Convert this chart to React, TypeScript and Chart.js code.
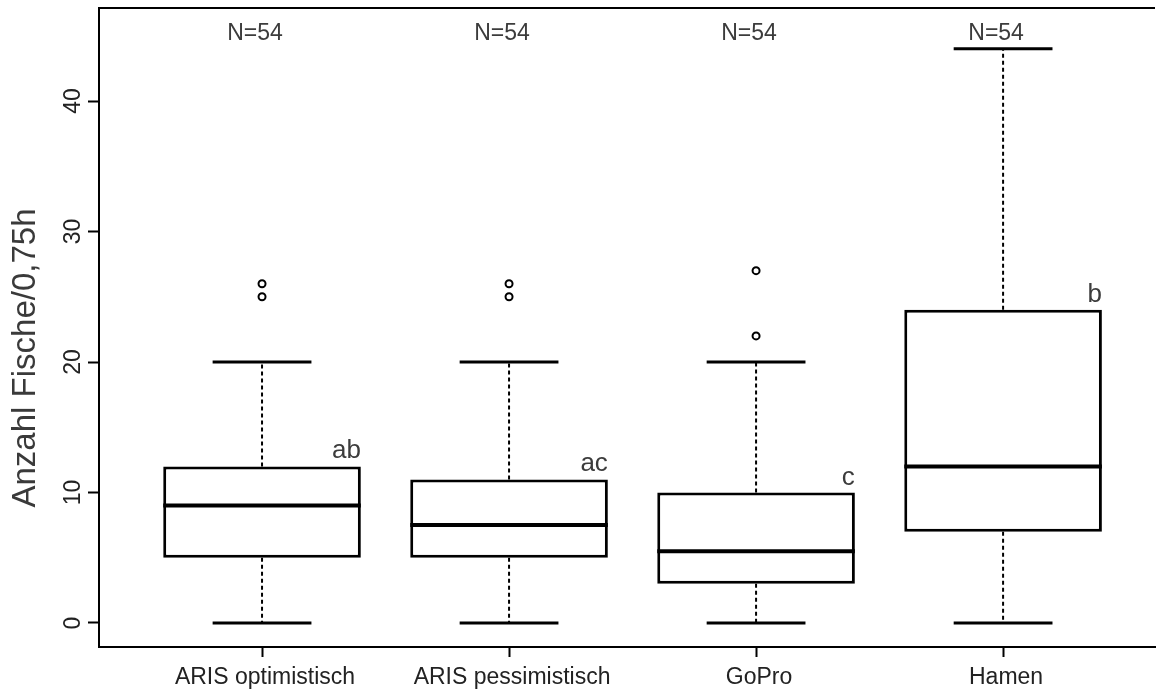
import React, { useEffect, useRef } from 'react';
import { Chart, registerables } from 'chart.js';

Chart.register(...registerables);

const categories = ['ARIS optimistisch', 'ARIS pessimistisch', 'GoPro', 'Hamen'];
const whiskerLow = [0, 0, 0, 0];
const q1 = [5, 5, 3, 7];
const median = [9, 7.5, 5.5, 12];
const q3 = [12, 11, 10, 24];
const whiskerHigh = [20, 20, 20, 44];
const outliers = [[25, 26], [25, 26], [22, 27], []];
const groupLetters = ['ab', 'ac', 'c', 'b'];
const nLabels = ['N=54', 'N=54', 'N=54', 'N=54'];
const yTicks = [0, 10, 20, 30, 40];
const yTitle = 'Anzahl Fische/0,75h';

const FONT = '"Liberation Sans", Arial, Helvetica, sans-serif';
const BOX_HALF = 0.4;
const CAP_HALF = 0.2;

const boxPlugin = {
  id: 'boxExtras',
  beforeDatasetsDraw(chart: any) {
    const { ctx, scales } = chart;
    const x = scales.x;
    const y = scales.y;
    ctx.save();
    ctx.strokeStyle = '#000';
    categories.forEach((_, i) => {
      const cx = x.getPixelForValue(i + 1);
      ctx.lineWidth = 2;
      ctx.setLineDash([4, 3]);
      ctx.beginPath();
      ctx.moveTo(cx, y.getPixelForValue(q3[i]));
      ctx.lineTo(cx, y.getPixelForValue(whiskerHigh[i]));
      ctx.moveTo(cx, y.getPixelForValue(q1[i]));
      ctx.lineTo(cx, y.getPixelForValue(whiskerLow[i]));
      ctx.stroke();
      ctx.setLineDash([]);
      ctx.lineWidth = 3;
      ctx.beginPath();
      const l = x.getPixelForValue(i + 1 - CAP_HALF);
      const r = x.getPixelForValue(i + 1 + CAP_HALF);
      const yh = y.getPixelForValue(whiskerHigh[i]);
      const yl = y.getPixelForValue(whiskerLow[i]);
      ctx.moveTo(l, yh);
      ctx.lineTo(r, yh);
      ctx.moveTo(l, yl);
      ctx.lineTo(r, yl);
      ctx.stroke();
    });
    ctx.restore();
  },
  afterDatasetsDraw(chart: any) {
    const { ctx, scales } = chart;
    const x = scales.x;
    const y = scales.y;
    ctx.save();
    categories.forEach((_, i) => {
      const l = x.getPixelForValue(i + 1 - BOX_HALF);
      const r = x.getPixelForValue(i + 1 + BOX_HALF);
      const ym = y.getPixelForValue(median[i]);
      ctx.strokeStyle = '#000';
      ctx.lineWidth = 4;
      ctx.beginPath();
      ctx.moveTo(l, ym);
      ctx.lineTo(r, ym);
      ctx.stroke();
      ctx.fillStyle = '#3c3c3c';
      ctx.font = `26px ${FONT}`;
      ctx.textAlign = 'right';
      ctx.textBaseline = 'alphabetic';
      ctx.fillText(groupLetters[i], r, y.getPixelForValue(q3[i]) - 8);
    });
    ctx.restore();
  },
  afterDraw(chart: any) {
    const { ctx, scales, chartArea } = chart;
    const x = scales.x;
    const y = scales.y;
    ctx.save();
    ctx.strokeStyle = '#000';
    ctx.lineWidth = 2;
    ctx.beginPath();
    ctx.moveTo(chartArea.left - 1, chartArea.top);
    ctx.lineTo(chartArea.right, chartArea.top);
    ctx.stroke();
    ctx.fillStyle = '#3c3c3c';
    ctx.font = `23px ${FONT}`;
    ctx.textAlign = 'center';
    ctx.textBaseline = 'alphabetic';
    categories.forEach((_, i) => {
      ctx.fillText(nLabels[i], x.getPixelForValue(i + 1) - 7, 40);
    });
    ctx.fillStyle = '#222';
    categories.forEach((c, i) => {
      ctx.fillText(c, x.getPixelForValue(i + 1) + 3, 684);
    });
    yTicks.forEach((v) => {
      ctx.save();
      ctx.translate(80, y.getPixelForValue(v));
      ctx.rotate(-Math.PI / 2);
      ctx.textAlign = 'center';
      ctx.fillText(String(v), 0, 0);
      ctx.restore();
    });
    ctx.save();
    ctx.fillStyle = '#3a3a3a';
    ctx.font = `33px ${FONT}`;
    ctx.translate(35, 358);
    ctx.rotate(-Math.PI / 2);
    ctx.textAlign = 'center';
    ctx.fillText(yTitle, 0, 0);
    ctx.restore();
    ctx.restore();
  },
};

export default function App() {
  const canvasRef = useRef<HTMLCanvasElement>(null);

  useEffect(() => {
    document.body.style.margin = '0';
    const canvas = canvasRef.current;
    if (!canvas) return;
    const chart = new Chart(canvas, {
      type: 'bar',
      data: {
        datasets: [
          {
            type: 'bar',
            data: categories.map((_, i) => ({ x: i + 1, y: [q1[i], q3[i]] })) as any,
            backgroundColor: '#fff',
            borderColor: '#000',
            borderWidth: 3,
            borderSkipped: false,
            categoryPercentage: 2 * BOX_HALF,
            barPercentage: 1,
          } as any,
          {
            type: 'scatter',
            data: outliers.flatMap((arr, i) => arr.map((v) => ({ x: i + 1, y: v }))),
            pointRadius: 3.5,
            pointBorderWidth: 2,
            pointBorderColor: '#000',
            pointBackgroundColor: '#fff',
          } as any,
        ],
      },
      options: {
        responsive: false,
        animation: false,
        layout: { padding: { top: 8, left: 0, right: 0, bottom: 0 } },
        plugins: { legend: { display: false }, tooltip: { enabled: false } },
        scales: {
          x: {
            type: 'linear',
            offset: false,
            min: 0.34,
            max: 4.615,
            afterBuildTicks: (s: any) => {
              s.ticks = categories.map((_, i) => ({ value: i + 1 }));
            },
            afterFit: (s: any) => {
              s.height = 44;
            },
            ticks: { display: false },
            grid: {
              offset: false,
              drawOnChartArea: false,
              drawTicks: true,
              tickLength: 10,
              color: '#000',
              tickWidth: 2,
            },
            border: { display: true, color: '#000', width: 2 },
          },
          y: {
            type: 'linear',
            min: -1.84,
            max: 47.13,
            afterBuildTicks: (s: any) => {
              s.ticks = yTicks.map((v) => ({ value: v }));
            },
            afterFit: (s: any) => {
              s.width = 99;
            },
            ticks: { display: false },
            grid: {
              drawOnChartArea: false,
              drawTicks: true,
              tickLength: 11,
              color: '#000',
              tickWidth: 2,
            },
            border: { display: true, color: '#000', width: 2 },
          },
        },
      } as any,
      plugins: [boxPlugin],
    });
    return () => chart.destroy();
  }, []);

  return (
    <div style={{ width: 1161, height: 691, background: '#fff' }}>
      <canvas ref={canvasRef} width={1161} height={691} />
    </div>
  );
}
